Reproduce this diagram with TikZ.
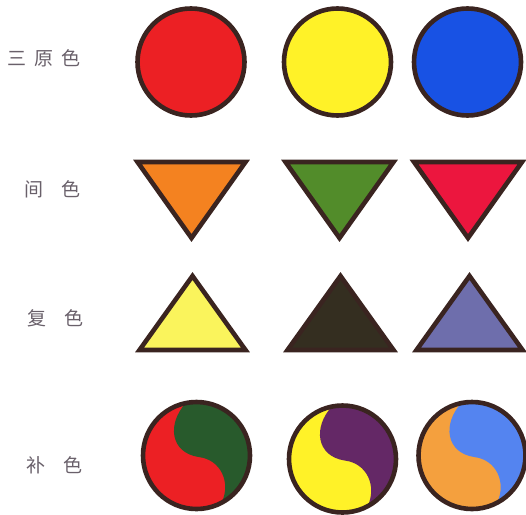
\documentclass[tikz,border=0pt]{standalone}
\usepackage{fontspec}
\newfontfamily\cjk{Noto Sans CJK SC}
\usepackage{tikz}
\usepackage{xcolor}
\definecolor{rimbrown}{RGB}{58,36,32}
\definecolor{labelgray}{RGB}{105,96,106}
\definecolor{primred}{RGB}{236,32,36}
\definecolor{primyellow}{RGB}{255,242,40}
\definecolor{primblue}{RGB}{24,82,228}
\definecolor{secorange}{RGB}{244,130,32}
\definecolor{secgreen}{RGB}{82,140,42}
\definecolor{secred}{RGB}{236,22,62}
\definecolor{tertyellow}{RGB}{250,244,92}
\definecolor{tertdark}{RGB}{52,46,32}
\definecolor{tertviolet}{RGB}{110,110,172}
\definecolor{compgreen}{RGB}{40,90,44}
\definecolor{comppurple}{RGB}{100,40,102}
\definecolor{comporange}{RGB}{244,160,62}
\definecolor{compblue}{RGB}{84,132,240}
% S-shaped split of a unit circle, right half
\newcommand{\taijiright}{(101.5:1) .. controls (-0.55,0.6) and (-0.5,0.05) .. (0.05,-0.03)
    .. controls (0.45,-0.08) and (0.65,-0.5) .. (-62:1)
    arc[start angle=-62, end angle=101.5, radius=1] -- cycle}

\begin{document}
\begin{tikzpicture}[x=1pt, y=1pt,
    rim/.style={draw=rimbrown, line width=4.6pt, line join=miter},
    rowlabel/.style={font=\cjk\fontsize{19}{19}\selectfont, text=labelgray,
        inner sep=0pt, anchor=west}
]
    \useasboundingbox (0,0) rectangle (526,-514);

    % Row labels
    \node[rowlabel] (lprim) at (7,-58) {三\hspace{8pt}原\hspace{8pt}色};
    \node[rowlabel] (lsec) at (24,-189) {间\hspace{18pt}色};
    \node[rowlabel] (lter) at (27,-318) {复\hspace{18pt}色};
    \node[rowlabel] (lcomp) at (26,-465) {补\hspace{18pt}色};

    % Primary colours
    \draw[rim, fill=primred] (191,-62) circle[radius=53.5];
    \draw[rim, fill=primyellow] (337.5,-62) circle[radius=53.5];
    \draw[rim, fill=primblue] (467.5,-62) circle[radius=53.5];

    % Secondary colours --- pointing down
    \draw[rim, fill=secorange] (137.5,-162) -- (245.5,-162) -- (191.5,-238) -- cycle;
    \draw[rim, fill=secgreen] (285.5,-162) -- (393.5,-162) -- (339.5,-238) -- cycle;
    \draw[rim, fill=secred] (414,-162) -- (522,-162) -- (468,-238) -- cycle;

    % Tertiary colours --- pointing up
    \draw[rim, fill=tertyellow] (139.5,-350) -- (245.5,-350) -- (192.5,-276) -- cycle;
    \draw[rim, fill=tertdark] (287.5,-350) -- (393.5,-350) -- (340.5,-276) -- cycle;
    \draw[rim, fill=tertviolet] (416.5,-350) -- (522.5,-350) -- (469.5,-276) -- cycle;

    % Complementary pairs
    \begin{scope}[shift={(196.5,-455.5)}, scale=53.5]
        \fill[primred] (0,0) circle[radius=1];
        \fill[compgreen] \taijiright;
        \draw[rim] (0,0) circle[radius=1];
    \end{scope}
    \begin{scope}[shift={(342.5,-459)}, scale=53.5]
        \fill[primyellow] (0,0) circle[radius=1];
        \fill[comppurple] \taijiright;
        \draw[rim] (0,0) circle[radius=1];
    \end{scope}
    \begin{scope}[shift={(472,-455.5)}, scale=53.5]
        \fill[comporange] (0,0) circle[radius=1];
        \fill[compblue] \taijiright;
        \draw[rim] (0,0) circle[radius=1];
    \end{scope}
\end{tikzpicture}
\end{document}
